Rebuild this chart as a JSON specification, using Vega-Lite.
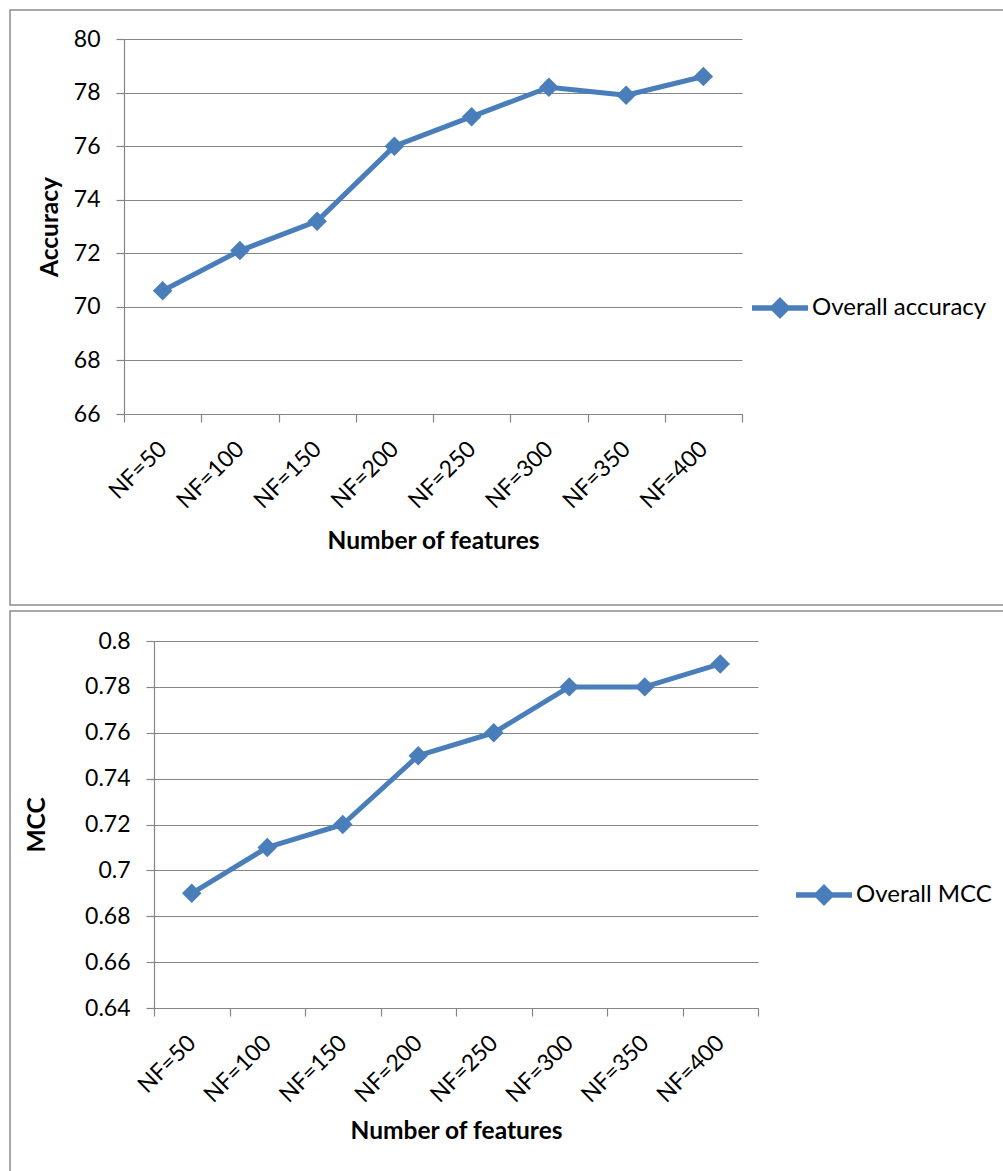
{
  "$schema": "https://vega.github.io/schema/vega-lite/v6.json",
  "padding": {"top": 9, "left": 1, "right": 0, "bottom": 0},
  "spacing": 4,
  "resolve": {"scale": {"color": "independent"}, "legend": {"color": "independent"}},
  "config": {
    "font": "Lato",
    "view": {"stroke": "#8c8c8c", "strokeWidth": 1.5},
    "axis": {
      "domainColor": "#868686", "tickColor": "#868686", "gridColor": "#868686",
      "domainWidth": 1.2, "tickWidth": 1.2, "gridWidth": 1.2, "tickSize": 8,
      "labelFont": "Lato", "labelFontSize": 23, "labelColor": "#000000",
      "titleFont": "Lato", "titleFontSize": 24.5, "titleFontWeight": "bold", "titleColor": "#000000"
    },
    "legend": {
      "labelFont": "Lato", "labelFontSize": 24, "labelColor": "#000000", "labelLimit": 400,
      "padding": 0, "labelOffset": 1
    }
  },
  "vconcat": [
    {
      "width": 1000,
      "height": 595,
      "data": {"values": [
        {"nf": "NF=50", "value": 70.6, "series": "Overall accuracy"},
        {"nf": "NF=100", "value": 72.1, "series": "Overall accuracy"},
        {"nf": "NF=150", "value": 73.2, "series": "Overall accuracy"},
        {"nf": "NF=200", "value": 76.0, "series": "Overall accuracy"},
        {"nf": "NF=250", "value": 77.1, "series": "Overall accuracy"},
        {"nf": "NF=300", "value": 78.2, "series": "Overall accuracy"},
        {"nf": "NF=350", "value": 77.9, "series": "Overall accuracy"},
        {"nf": "NF=400", "value": 78.6, "series": "Overall accuracy"}
      ]},
      "encoding": {
        "x": {
          "field": "nf", "type": "nominal", "sort": null,
          "scale": {"type": "band", "range": [114, 732], "paddingInner": 0, "paddingOuter": 0},
          "axis": {"title": "Number of features", "offset": -191, "labelAngle": -45, "labelAlign": "right", "labelBaseline": "middle", "tickBand": "extent", "grid": false, "labelPadding": 23, "titlePadding": 17}
        },
        "y": {
          "field": "value", "type": "quantitative",
          "scale": {"domain": [66, 80], "range": [404, 29], "nice": false, "zero": false},
          "axis": {"title": "Accuracy", "offset": -114, "values": [66, 68, 70, 72, 74, 76, 78, 80], "format": "d", "grid": true, "labelPadding": 16, "titlePadding": 11}
        },
        "color": {
          "field": "series", "type": "nominal", "scale": {"range": ["#4A7EBB"]},
          "legend": {
            "title": null, "orient": "none", "legendX": 739, "legendY": 267,
            "symbolType": "M-1,0L1,0M0,-0.25L0.25,0L0,0.25L-0.25,0Z",
            "symbolSize": 3136, "symbolStrokeWidth": 5.5, "symbolStrokeColor": "#4A7EBB", "symbolFillColor": "#4A7EBB"
          }
        }
      },
      "layer": [
        {"mark": {"type": "line", "strokeWidth": 5, "strokeJoin": "round"}},
        {"mark": {"type": "point", "shape": "diamond", "filled": true, "size": 380, "opacity": 1}}
      ]
    },
    {
      "width": 1000,
      "height": 570,
      "data": {"values": [
        {"nf": "NF=50", "value": 0.69, "series": "Overall MCC"},
        {"nf": "NF=100", "value": 0.71, "series": "Overall MCC"},
        {"nf": "NF=150", "value": 0.72, "series": "Overall MCC"},
        {"nf": "NF=200", "value": 0.75, "series": "Overall MCC"},
        {"nf": "NF=250", "value": 0.76, "series": "Overall MCC"},
        {"nf": "NF=300", "value": 0.78, "series": "Overall MCC"},
        {"nf": "NF=350", "value": 0.78, "series": "Overall MCC"},
        {"nf": "NF=400", "value": 0.79, "series": "Overall MCC"}
      ]},
      "encoding": {
        "x": {
          "field": "nf", "type": "nominal", "sort": null,
          "scale": {"type": "band", "range": [144, 748], "paddingInner": 0, "paddingOuter": 0},
          "axis": {"title": "Number of features", "offset": -173, "labelAngle": -45, "labelAlign": "right", "labelBaseline": "middle", "tickBand": "extent", "grid": false, "labelPadding": 23, "titlePadding": 13}
        },
        "y": {
          "field": "value", "type": "quantitative",
          "scale": {"domain": [0.64, 0.8], "range": [397, 30], "nice": false, "zero": false},
          "axis": {"title": "MCC", "offset": -144, "values": [0.64, 0.66, 0.68, 0.7, 0.72, 0.74, 0.76, 0.78, 0.8], "format": ".2~f", "grid": true, "labelPadding": 16, "titlePadding": 35}
        },
        "color": {
          "field": "series", "type": "nominal", "scale": {"range": ["#4A7EBB"]},
          "legend": {
            "title": null, "orient": "none", "legendX": 783, "legendY": 253,
            "symbolType": "M-1,0L1,0M0,-0.25L0.25,0L0,0.25L-0.25,0Z",
            "symbolSize": 3136, "symbolStrokeWidth": 5.5, "symbolStrokeColor": "#4A7EBB", "symbolFillColor": "#4A7EBB"
          }
        }
      },
      "layer": [
        {"mark": {"type": "line", "strokeWidth": 5, "strokeJoin": "round"}},
        {"mark": {"type": "point", "shape": "diamond", "filled": true, "size": 380, "opacity": 1}}
      ]
    }
  ]
}
